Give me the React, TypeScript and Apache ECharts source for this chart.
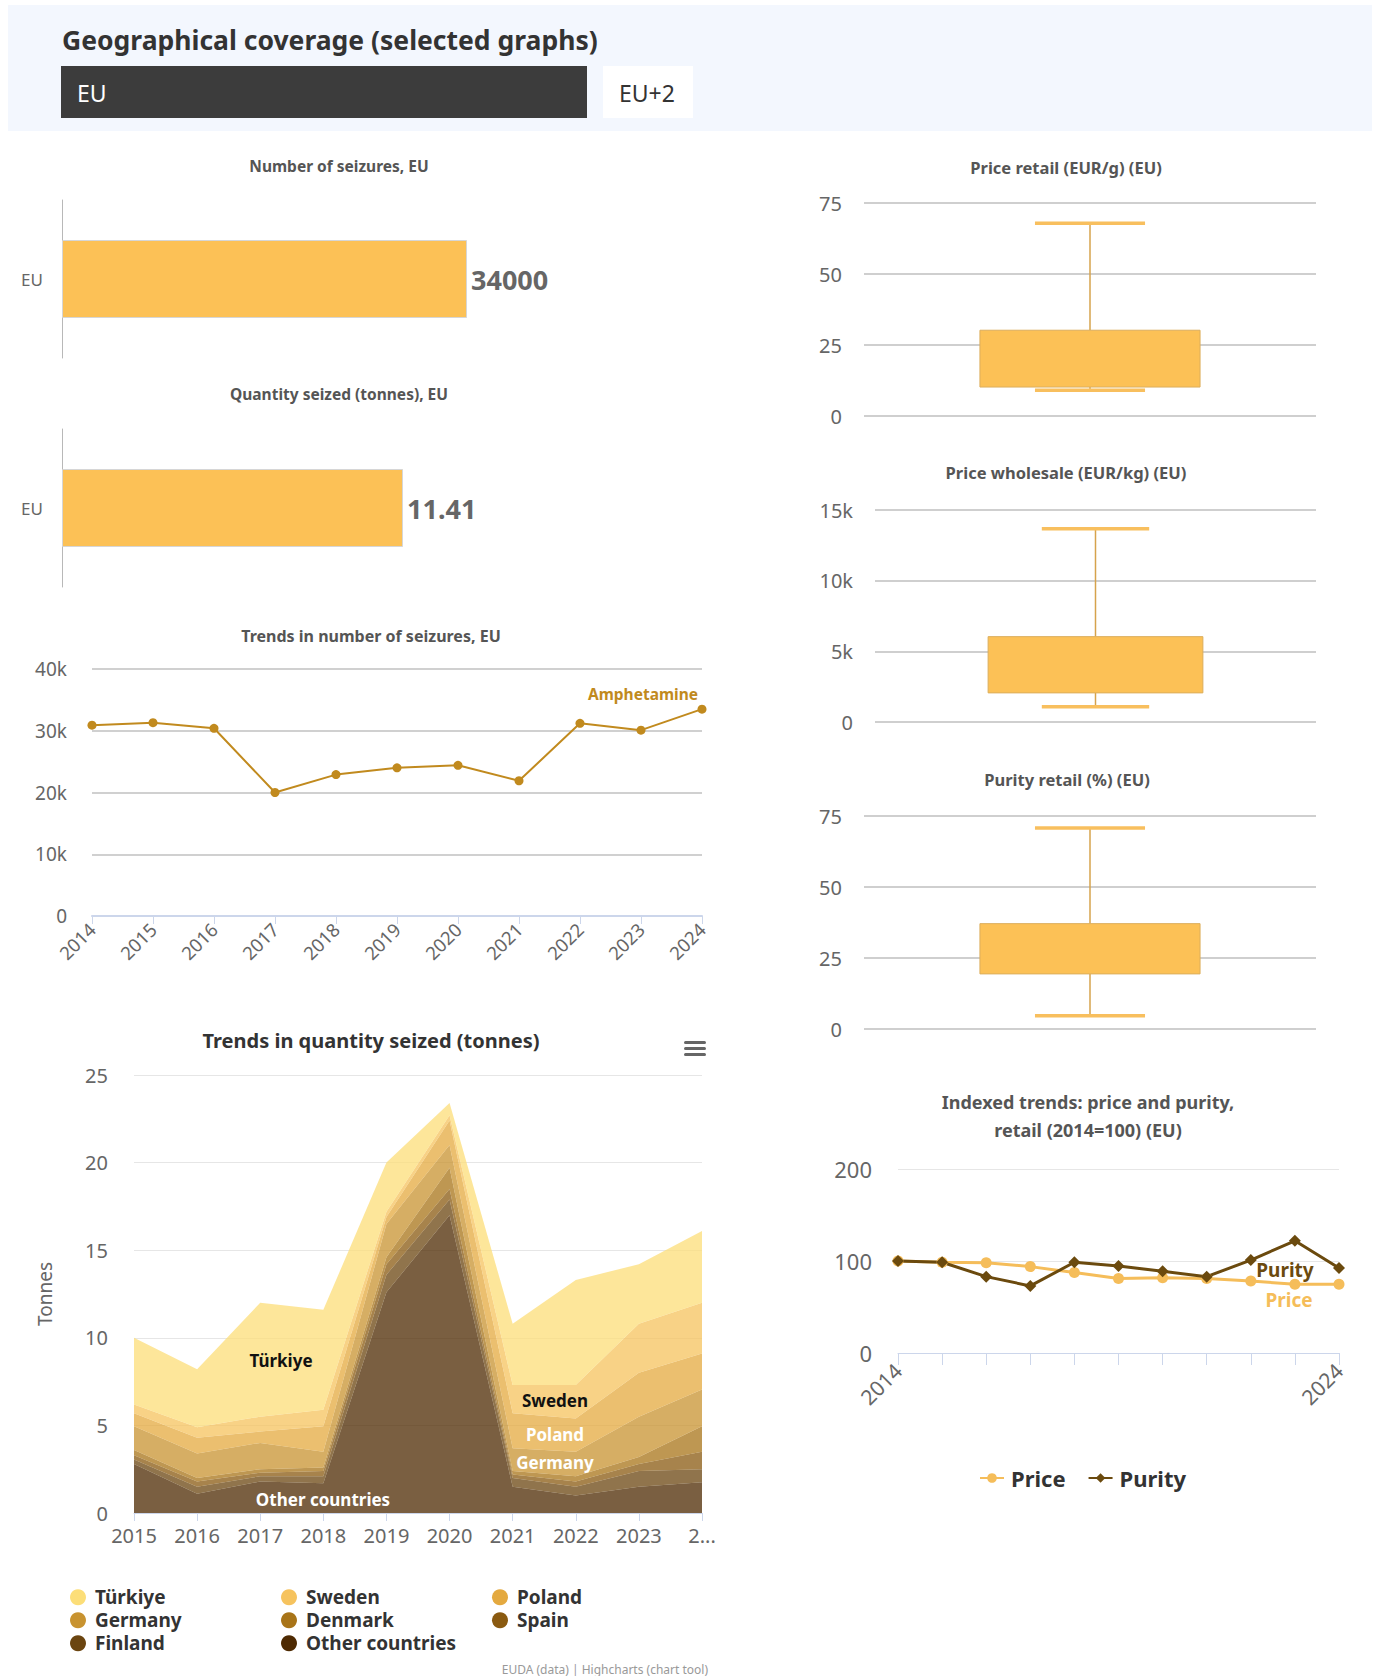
import React, { useEffect, useRef } from "react";
import * as echarts from "echarts";

// ---------- DATA ----------
const barCategories = ["EU"];
const seizuresCount = [34000];
const quantitySeized = [11.41];

const trendYears = ["2014", "2015", "2016", "2017", "2018", "2019", "2020", "2021", "2022", "2023", "2024"];
const trendSeizures = [30900, 31300, 30400, 20000, 22900, 24000, 24400, 21900, 31200, 30100, 33500];

const areaYears = ["2015", "2016", "2017", "2018", "2019", "2020", "2021", "2022", "2023", "2024"];
const turkiye = [3.8, 3.3, 6.5, 5.7, 2.8, 0.7, 3.5, 6.0, 3.4, 4.1];
const sweden = [0.5, 0.6, 0.85, 0.95, 0.3, 0.3, 1.6, 1.9, 2.8, 2.9];
const poland = [0.75, 0.9, 0.65, 1.45, 0.4, 1.4, 2.0, 1.9, 2.5, 2.05];
const germany = [1.35, 1.4, 1.5, 0.9, 1.9, 1.3, 1.3, 1.4, 2.3, 2.1];
const denmark = [0.3, 0.2, 0.2, 0.2, 0.4, 1.2, 0.2, 0.3, 0.4, 1.45];
const spain = [0.25, 0.3, 0.2, 0.3, 0.6, 0.6, 0.2, 0.3, 0.4, 1.0];
const finland = [0.25, 0.4, 0.3, 0.4, 1.0, 0.9, 0.5, 0.5, 0.9, 0.75];
const otherCountries = [2.8, 1.1, 1.8, 1.7, 12.6, 17.0, 1.5, 1.0, 1.5, 1.75];

// box plots: [min, q1, q3, max]
const boxRetailPrice = [9.1, 10.2, 30.2, 67.9];
const boxWholesalePrice = [1080, 2060, 6040, 13670];
const boxRetailPurity = [4.7, 19.4, 37.1, 70.8];

const indexYears = ["2014", "2015", "2016", "2017", "2018", "2019", "2020", "2021", "2022", "2023", "2024"];
const indexPrice = [100, 98.6, 98.2, 93.9, 87.4, 80.9, 81.9, 80.9, 78.3, 74.7, 74.7];
const indexPurity = [100, 98.6, 83.0, 72.9, 98.6, 94.6, 88.8, 83.0, 101, 122, 92.4];

// ---------- STYLE ----------
const CF = "'Noto Sans', sans-serif";
const HF = "'Noto Sans', sans-serif";
const AMBER = "#fcc156";
const LINE_GOLD = "#c18a1e";
const PRICE_C = "#f5bd5a";
const PURITY_C = "#6b4a0e";

const areaColors: Record<string, string> = {
  "Türkiye": "#fcde78",
  Sweden: "#f6c35e",
  Poland: "#e4a93f",
  Germany: "#c89330",
  Denmark: "#a87418",
  Spain: "#8a5a10",
  Finland: "#6b4510",
  "Other countries": "#4e2a02",
};

const txt = (text: string, x: number, y: number, size: number, color: string, weight = "bold", align = "center", family = CF) => ({
  type: "text",
  x,
  y,
  z: 100,
  silent: true,
  style: {
    text,
    fill: color,
    fontSize: size,
    fontWeight: weight,
    fontFamily: family,
    textAlign: align,
    textVerticalAlign: "middle",
    align,
    verticalAlign: "middle",
  },
});

const boxRender = (params: any, api: any) => {
  const x = api.value(0);
  const pMin = api.coord([x, api.value(1)]);
  const pQ1 = api.coord([x, api.value(2)]);
  const pQ3 = api.coord([x, api.value(3)]);
  const pMax = api.coord([x, api.value(4)]);
  const band = api.size([1, 0])[0];
  const bw = band * 0.487;
  const cx = pMin[0];
  const stem = { stroke: "#d6a34c", lineWidth: 1.5 };
  const cap = { stroke: "#f8bf5e", lineWidth: 3.5 };
  return {
    type: "group",
    children: [
      { type: "line", shape: { x1: cx, y1: pMax[1], x2: cx, y2: pQ3[1] }, style: stem },
      { type: "line", shape: { x1: cx, y1: pQ1[1], x2: cx, y2: pMin[1] }, style: stem },
      {
        type: "rect",
        shape: { x: cx - bw / 2, y: pQ3[1], width: bw, height: pQ1[1] - pQ3[1] },
        style: { fill: AMBER, stroke: "#dcae5c", lineWidth: 1 },
      },
      { type: "line", shape: { x1: cx - bw / 4, y1: pMax[1], x2: cx + bw / 4, y2: pMax[1] }, style: cap },
      { type: "line", shape: { x1: cx - bw / 4, y1: pMin[1], x2: cx + bw / 4, y2: pMin[1] }, style: cap },
    ],
  };
};

export default function App() {
  const ref = useRef<HTMLDivElement>(null);

  useEffect(() => {
    if (!ref.current) return;
    const chart = echarts.init(ref.current, undefined, { renderer: "svg" });

    const axisLabel = (size: number, extra: any = {}) => ({
      color: "#666",
      fontSize: size,
      fontFamily: CF,
      ...extra,
    });

    const barGrid = (top: number, width: number) => ({ left: 62, top, width, height: 158 });

    const boxY = (idx: number, max: number, interval: number, fmt?: (v: number) => string) => ({
      type: "value",
      gridIndex: idx,
      min: 0,
      max,
      interval,
      axisLine: { show: false },
      axisTick: { show: false },
      splitLine: { lineStyle: { color: "#cfcfcf", width: 2 } },
      axisLabel: axisLabel(20, { margin: 22, formatter: fmt }),
    });
    const boxX = (idx: number) => ({
      type: "category",
      gridIndex: idx,
      data: [""],
      axisLine: { show: false },
      axisTick: { show: false },
      axisLabel: { show: false },
    });

    const areaOrder: [string, number[]][] = [
      ["Other countries", otherCountries],
      ["Finland", finland],
      ["Spain", spain],
      ["Denmark", denmark],
      ["Germany", germany],
      ["Poland", poland],
      ["Sweden", sweden],
      ["Türkiye", turkiye],
    ];

    const legendText = { fontSize: 19, fontWeight: "bold", color: "#333", fontFamily: CF, lineHeight: 22.5, padding: [0, 0, 0, 4] };
    const areaLegend = (left: number, data: string[]) => ({
      left,
      top: 1586,
      orient: "vertical",
      data,
      icon: "circle",
      itemWidth: 16,
      itemHeight: 16,
      itemGap: 0.5,
      padding: 0,
      selectedMode: false,
      textStyle: legendText,
    });

    const lastIdx = trendSeizures.length - 1;

    const option: any = {
      animation: false,
      backgroundColor: "#ffffff",
      grid: [
        barGrid(200, 405),
        barGrid(429, 341),
        { left: 92, top: 669, width: 610, height: 247 },
        { left: 134, top: 1075, width: 568, height: 438 },
        { left: 864, top: 203, width: 452, height: 213 },
        { left: 875, top: 510, width: 441, height: 212 },
        { left: 864, top: 816, width: 452, height: 213 },
        { left: 898, top: 1169, width: 441, height: 184 },
      ],
      xAxis: [
        { type: "value", gridIndex: 0, min: 0, max: "dataMax", show: false },
        { type: "value", gridIndex: 1, min: 0, max: "dataMax", show: false },
        {
          type: "category",
          gridIndex: 2,
          data: trendYears,
          boundaryGap: false,
          axisLine: { lineStyle: { color: "#ccd6eb", width: 2 } },
          axisTick: { show: true, length: 8, interval: 0, lineStyle: { color: "#ccd6eb" } },
          axisLabel: axisLabel(18.5, { rotate: 45, interval: 0, margin: 10 }),
        },
        {
          type: "category",
          gridIndex: 3,
          data: areaYears,
          boundaryGap: false,
          axisLine: { lineStyle: { color: "#ccd6eb", width: 1 } },
          axisTick: { show: true, length: 8, interval: 0, lineStyle: { color: "#ccd6eb" } },
          axisLabel: axisLabel(20, {
            interval: 0,
            margin: 12,
            formatter: (v: string, i: number) => (i === areaYears.length - 1 ? "2..." : v),
          }),
        },
        boxX(4),
        boxX(5),
        boxX(6),
        {
          type: "category",
          gridIndex: 7,
          data: indexYears,
          boundaryGap: false,
          axisLine: { lineStyle: { color: "#ccd6eb", width: 1 } },
          axisTick: { show: true, length: 12, interval: 0, lineStyle: { color: "#ccd6eb" } },
          axisLabel: axisLabel(21, {
            rotate: 45,
            margin: 14,
            interval: (i: number) => i === 0 || i === indexYears.length - 1,
          }),
        },
      ],
      yAxis: [
        {
          type: "category",
          gridIndex: 0,
          data: barCategories,
          axisLine: { lineStyle: { color: "#b8b8b8", width: 1 } },
          axisTick: { show: false },
          axisLabel: axisLabel(17, { margin: 19 }),
        },
        {
          type: "category",
          gridIndex: 1,
          data: barCategories,
          axisLine: { lineStyle: { color: "#b8b8b8", width: 1 } },
          axisTick: { show: false },
          axisLabel: axisLabel(17, { margin: 19 }),
        },
        {
          type: "value",
          gridIndex: 2,
          min: 0,
          max: 40000,
          interval: 10000,
          axisLine: { show: false },
          axisTick: { show: false },
          splitLine: { lineStyle: { color: "#d0d0d0", width: 2 } },
          axisLabel: axisLabel(19, { margin: 25, formatter: (v: number) => (v === 0 ? "0" : v / 1000 + "k") }),
        },
        {
          type: "value",
          gridIndex: 3,
          min: 0,
          max: 25,
          interval: 5,
          name: "Tonnes",
          nameLocation: "middle",
          nameRotate: 90,
          nameGap: 80,
          nameTextStyle: { color: "#666", fontSize: 19, fontFamily: CF },
          axisLine: { show: false },
          axisTick: { show: false },
          splitLine: { lineStyle: { color: "#e6e6e6", width: 1 } },
          axisLabel: axisLabel(20, { margin: 26 }),
        },
        boxY(4, 75, 25),
        boxY(5, 15000, 5000, (v: number) => (v === 0 ? "0" : v / 1000 + "k")),
        boxY(6, 75, 25),
        {
          type: "value",
          gridIndex: 7,
          min: 0,
          max: 200,
          interval: 100,
          axisLine: { show: false },
          axisTick: { show: false },
          splitLine: { lineStyle: { color: "#e6e6e6", width: 1 } },
          axisLabel: axisLabel(22, { margin: 26 }),
        },
      ],
      legend: [
        areaLegend(70, ["Türkiye", "Germany", "Finland"]),
        areaLegend(281, ["Sweden", "Denmark", "Other countries"]),
        areaLegend(492, ["Poland", "Spain"]),
        {
          left: 979,
          top: 1467,
          data: ["Price", "Purity"],
          itemWidth: 24,
          itemHeight: 12,
          itemGap: 22,
          padding: 0,
          selectedMode: false,
          textStyle: { fontSize: 22, fontWeight: "bold", color: "#333", fontFamily: CF, padding: [0, 0, 0, 2] },
        },
      ],
      series: [
        {
          type: "bar",
          xAxisIndex: 0,
          yAxisIndex: 0,
          data: seizuresCount,
          barWidth: 78,
          itemStyle: { color: AMBER, borderColor: "#d6d6d6", borderWidth: 1 },
          label: { show: true, position: "right", distance: 4, color: "#666", fontSize: 27, fontWeight: "bold", fontFamily: CF },
        },
        {
          type: "bar",
          xAxisIndex: 1,
          yAxisIndex: 1,
          data: quantitySeized,
          barWidth: 78,
          itemStyle: { color: AMBER, borderColor: "#d6d6d6", borderWidth: 1 },
          label: { show: true, position: "right", distance: 4, color: "#666", fontSize: 27, fontWeight: "bold", fontFamily: CF },
        },
        {
          type: "line",
          name: "Amphetamine",
          xAxisIndex: 2,
          yAxisIndex: 2,
          data: trendSeizures.map((v, i) =>
            i === lastIdx
              ? {
                  value: v,
                  label: {
                    show: true,
                    position: "top",
                    align: "right",
                    distance: 3,
                    offset: [-4, 0],
                    formatter: "Amphetamine",
                    color: LINE_GOLD,
                    fontSize: 15.5,
                    fontWeight: "bold",
                    fontFamily: CF,
                  },
                }
              : v
          ),
          color: LINE_GOLD,
          lineStyle: { width: 2, color: LINE_GOLD },
          symbol: "circle",
          symbolSize: 9,
          itemStyle: { color: LINE_GOLD },
        },
        ...areaOrder.map(([name, data]) => ({
          type: "line",
          name,
          xAxisIndex: 3,
          yAxisIndex: 3,
          stack: "total",
          data,
          color: areaColors[name],
          itemStyle: { color: areaColors[name] },
          symbol: "none",
          lineStyle: { width: 0 },
          areaStyle: { color: areaColors[name], opacity: 0.75 },
        })),
        {
          type: "custom",
          xAxisIndex: 4,
          yAxisIndex: 4,
          renderItem: boxRender,
          encode: { x: 0, y: [1, 2, 3, 4] },
          data: [[0, ...boxRetailPrice]],
        },
        {
          type: "custom",
          xAxisIndex: 5,
          yAxisIndex: 5,
          renderItem: boxRender,
          encode: { x: 0, y: [1, 2, 3, 4] },
          data: [[0, ...boxWholesalePrice]],
        },
        {
          type: "custom",
          xAxisIndex: 6,
          yAxisIndex: 6,
          renderItem: boxRender,
          encode: { x: 0, y: [1, 2, 3, 4] },
          data: [[0, ...boxRetailPurity]],
        },
        {
          type: "line",
          name: "Price",
          xAxisIndex: 7,
          yAxisIndex: 7,
          data: indexPrice,
          color: PRICE_C,
          lineStyle: { width: 3, color: PRICE_C },
          symbol: "circle",
          symbolSize: 11,
          itemStyle: { color: PRICE_C },
        },
        {
          type: "line",
          name: "Purity",
          xAxisIndex: 7,
          yAxisIndex: 7,
          data: indexPurity,
          color: PURITY_C,
          lineStyle: { width: 3, color: PURITY_C },
          symbol: "diamond",
          symbolSize: 12,
          itemStyle: { color: PURITY_C },
        },
      ],
      graphic: [
        // header panel
        { type: "rect", z: 0, silent: true, shape: { x: 8, y: 5, width: 1364, height: 126 }, style: { fill: "#f3f7fe" } },
        txt("Geographical coverage (selected graphs)", 62, 40, 26.5, "#333", "bold", "left", HF),
        { type: "rect", z: 1, silent: true, shape: { x: 61, y: 66, width: 526, height: 52 }, style: { fill: "#3c3c3c" } },
        txt("EU", 77, 93, 23, "#ffffff", "normal", "left", HF),
        { type: "rect", z: 1, silent: true, shape: { x: 603, y: 66, width: 90, height: 52 }, style: { fill: "#ffffff" } },
        txt("EU+2", 619, 93, 23, "#333", "normal", "left", HF),
        // chart titles
        txt("Number of seizures, EU", 339, 166, 15.5, "#555"),
        txt("Quantity seized (tonnes), EU", 339, 394, 15.5, "#555"),
        txt("Trends in number of seizures, EU", 371, 636, 16, "#555"),
        txt("Trends in quantity seized (tonnes)", 371, 1040, 20, "#333"),
        txt("Price retail (EUR/g) (EU)", 1066, 167, 16.5, "#555"),
        txt("Price wholesale (EUR/kg) (EU)", 1066, 472, 16.5, "#555"),
        txt("Purity retail (%) (EU)", 1067, 779, 16.5, "#555"),
        txt("Indexed trends: price and purity,", 1088, 1102, 18, "#555"),
        txt("retail (2014=100) (EU)", 1088, 1130, 18, "#555"),
        // hamburger menu
        { type: "rect", z: 100, silent: true, shape: { x: 684, y: 1041, width: 22, height: 3, r: 1.5 }, style: { fill: "#666" } },
        { type: "rect", z: 100, silent: true, shape: { x: 684, y: 1047, width: 22, height: 3, r: 1.5 }, style: { fill: "#666" } },
        { type: "rect", z: 100, silent: true, shape: { x: 684, y: 1053, width: 22, height: 3, r: 1.5 }, style: { fill: "#666" } },
        // area series labels
        txt("Türkiye", 281, 1360, 17, "#111"),
        txt("Sweden", 555, 1400, 17, "#111"),
        txt("Poland", 555, 1434, 17, "#ffffff"),
        txt("Germany", 555, 1462, 17, "#ffffff"),
        txt("Other countries", 323, 1499, 17, "#ffffff"),
        // indexed series labels
        txt("Purity", 1285, 1270, 19, PURITY_C),
        txt("Price", 1289, 1300, 19, PRICE_C),
        // credits
        txt("EUDA (data) | Highcharts (chart tool)", 708, 1669, 12, "#999", "normal", "right"),
      ],
    };

    chart.setOption(option);
    return () => chart.dispose();
  }, []);

  return (
    <div
      ref={ref}
      style={{ position: "absolute", left: 0, top: 0, width: 1378, height: 1676, background: "#fff" }}
    />
  );
}
